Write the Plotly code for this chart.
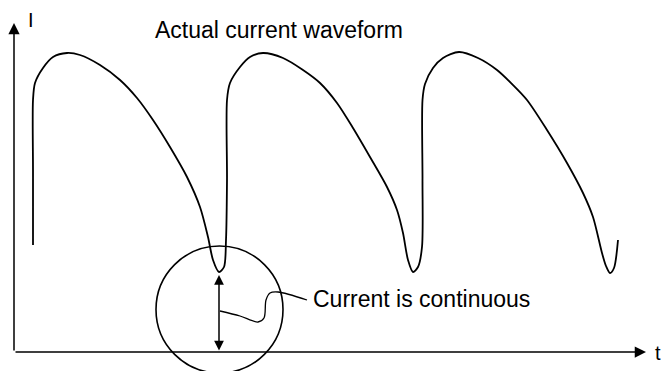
import plotly.graph_objects as go

# waveform (t, I in plot units, origin at the axes corner)
t_wave = [19, 19, 19, 21, 29, 39, 53, 66, 86, 106, 123, 139, 156, 173, 186, 194, 199, 205, 210, 212, 213, 213,
          216, 226, 236, 249, 269, 289, 306, 323, 339, 356, 373, 383, 389, 394, 399, 404, 408, 408.5, 408.5,
          411, 419, 429, 445, 464, 483, 498, 513, 533, 553, 569, 579, 588, 592, 596, 600, 604]
i_wave = [107, 182, 252, 269, 284, 295, 299, 297, 287, 272, 254, 232, 205, 175, 145, 115, 92, 80, 85, 112, 172, 252,
          269, 285, 295, 299, 294, 282, 269, 249, 224, 195, 165, 142, 119, 92, 80, 85, 105, 172, 252,
          268, 284, 294, 300, 294, 282, 268, 252, 222, 189, 159, 135, 99, 86, 79, 84, 112]

# leader from the arrow to the label
t_leader = [206, 226, 244, 250, 252, 256, 264, 293]
i_leader = [41, 36, 30, 34, 52, 59, 60, 52]

title_text = "Actual current waveform"
label_text = "Current is continuous"
font = "Liberation Sans, Arial, sans-serif"

fig = go.Figure()
fig.add_trace(go.Scatter(x=t_wave, y=i_wave, mode="lines",
                         line=dict(color="black", width=1.8, shape="spline", smoothing=0.8),
                         hoverinfo="skip"))
fig.add_trace(go.Scatter(x=t_leader, y=i_leader, mode="lines",
                         line=dict(color="black", width=1.3, shape="spline", smoothing=0.9),
                         hoverinfo="skip"))

# circle around the first minimum
fig.add_shape(type="circle", xref="x", yref="y", x0=142, x1=269, y0=-21, y1=106,
              line=dict(color="black", width=1.6))

# axes with arrowheads
fig.add_annotation(x=0, y=329, ax=0, ay=0, axref="x", ayref="y", text="", showarrow=True,
                   arrowhead=2, arrowsize=1.5, arrowwidth=1.5, arrowcolor="black", standoff=0)
fig.add_annotation(x=632, y=0, ax=0, ay=0, axref="x", ayref="y", text="", showarrow=True,
                   arrowhead=2, arrowsize=1.5, arrowwidth=1.5, arrowcolor="black", standoff=0)

# double arrow inside the circle
fig.add_annotation(x=205, y=77, ax=205, ay=0, axref="x", ayref="y", text="", showarrow=True,
                   arrowhead=2, startarrowhead=2, arrowside="end+start", arrowsize=1.3,
                   startarrowsize=1.3, arrowwidth=1.5, arrowcolor="black", standoff=0, startstandoff=0)

fig.add_annotation(x=139, y=322, text=title_text, showarrow=False, xanchor="left",
                   font=dict(size=23, color="black", family=font))
fig.add_annotation(x=297, y=53, text=label_text, showarrow=False, xanchor="left",
                   font=dict(size=23, color="black", family=font))
fig.add_annotation(x=12, y=332, text="I", showarrow=False, xanchor="left",
                   font=dict(size=20, color="black", family=font))
fig.add_annotation(x=639, y=-1, text="t", showarrow=False, xanchor="left",
                   font=dict(size=20, color="black", family=font))

fig.update_xaxes(range=[-14, 648], visible=False)
fig.update_yaxes(range=[-19, 352], visible=False)
fig.update_layout(width=662, height=371, margin=dict(l=0, r=0, t=0, b=0),
                  plot_bgcolor="white", paper_bgcolor="white", showlegend=False)

fig.write_html("out.html", config={"displayModeBar": False},
               post_script="document.body.style.margin='0';document.body.style.overflow='hidden';")
